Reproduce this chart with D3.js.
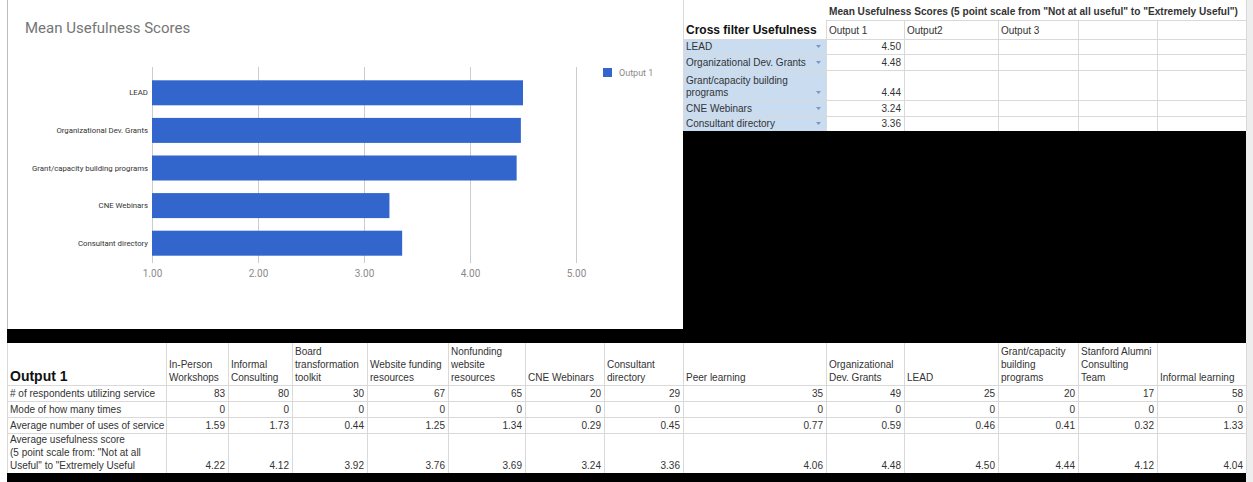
<!DOCTYPE html>
<html>
<head>
<meta charset="utf-8">
<script src="https://cdn.jsdelivr.net/npm/d3@7"></script>
<style>
  html, body { margin: 0; padding: 0; background: #fff; }
  svg { display: block; }
  text { font-family: "Liberation Sans", Arial, sans-serif; }
  .chart text { font-family: Roboto, "Liberation Sans", Arial, sans-serif; }
</style>
</head>
<body>
<svg id="sheet" width="1253" height="482"></svg>
<script>
// ---- Bar chart data ----
const chartTitle = "Mean Usefulness Scores";
const chartCategories = ["LEAD", "Organizational Dev. Grants", "Grant/capacity building programs", "CNE Webinars", "Consultant directory"];
const chartValues = [4.50, 4.48, 4.44, 3.24, 3.36];
const xTickValues = [1, 2, 3, 4, 5];
const seriesName = "Output 1";

// ---- Cross filter table data ----
const filterHeading = "Cross filter Usefulness";
const filterTitle = "Mean Usefulness Scores (5 point scale from \"Not at all useful\" to \"Extremely Useful\")";
const filterColumns = ["Output 1", "Output2", "Output 3", "", ""];
const filterRows = ["LEAD", "Organizational Dev. Grants", "Grant/capacity building\nprograms", "CNE Webinars", "Consultant directory"];
const filterOutput1 = [4.50, 4.48, 4.44, 3.24, 3.36];

// ---- Service summary table data ----
const summaryTitle = "Output 1";
const services = [
  "In-Person\nWorkshops", "Informal\nConsulting", "Board\ntransformation\ntoolkit",
  "Website funding\nresources", "Nonfunding\nwebsite\nresources", "CNE Webinars",
  "Consultant\ndirectory", "Peer learning", "Organizational\nDev. Grants", "LEAD",
  "Grant/capacity\nbuilding\nprograms", "Stanford Alumni\nConsulting\nTeam", "Informal learning"
];
const rowLabels = [
  "# of respondents utilizing service",
  "Mode of how many times",
  "Average number of uses of service",
  "Average usefulness score\n(5 point scale from: \"Not at all\nUseful\" to \"Extremely Useful"
];
const respondents = [83, 80, 30, 67, 65, 20, 29, 35, 49, 25, 20, 17, 58];
const modeTimes = [0, 0, 0, 0, 0, 0, 0, 0, 0, 0, 0, 0, 0];
const averageUses = [1.59, 1.73, 0.44, 1.25, 1.34, 0.29, 0.45, 0.77, 0.59, 0.46, 0.41, 0.32, 1.33];
const usefulnessScores = [4.22, 4.12, 3.92, 3.76, 3.69, 3.24, 3.36, 4.06, 4.48, 4.50, 4.44, 4.12, 4.04];

// ---- Layout ----
const svg = d3.select("#sheet");
const W = 1253, H = 482;
const gridColor = "#d9d9d9";
const cellText = "#333";
const rightEdge = 1246;

svg.append("rect").attr("width", W).attr("height", H).attr("fill", "#fff");

// scrollbar strip on the right
svg.append("rect").attr("x", rightEdge).attr("y", 0).attr("width", W - rightEdge).attr("height", H).attr("fill", "#eeeeee");

// sheet left edge
svg.append("line").attr("x1", 7.5).attr("x2", 7.5).attr("y1", 0).attr("y2", H)
  .attr("stroke", "#bdbdbd");

// ================= Bar chart =================
const chart = svg.append("g").attr("class", "chart");

chart.append("text")
  .attr("x", 25).attr("y", 33)
  .attr("font-size", 15).attr("fill", "#757575")
  .text(chartTitle);

const x = d3.scaleLinear().domain([1, 5]).range([152, 576]);
const y = d3.scaleBand().domain(chartCategories).range([74, 262])
  .paddingInner(0.335).paddingOuter(0.1675);

// vertical gridlines
const grid = chart.append("g").attr("transform", "translate(0,263)")
  .call(d3.axisBottom(x).tickValues(xTickValues).tickSize(-196).tickFormat(""));
grid.select(".domain").remove();
grid.selectAll("line").attr("stroke", "#cccccc");

// bars
chart.append("g").selectAll("rect")
  .data(chartCategories)
  .join("rect")
  .attr("x", x(1))
  .attr("y", d => y(d))
  .attr("width", (d, i) => x(chartValues[i]) - x(1))
  .attr("height", y.bandwidth())
  .attr("fill", "#3366cc");

// x axis labels
const xAxis = chart.append("g").attr("transform", "translate(0,270)")
  .call(d3.axisBottom(x).tickValues(xTickValues).tickSize(0).tickPadding(0).tickFormat(d3.format(".2f")));
xAxis.select(".domain").remove();
xAxis.selectAll("text")
  .attr("font-size", 10).attr("fill", "#8a8a8a")
  .attr("font-family", "Roboto, sans-serif");

// category labels
const yAxis = chart.append("g").attr("transform", `translate(${x(1)},0)`)
  .call(d3.axisLeft(y).tickSize(0).tickPadding(4));
yAxis.select(".domain").remove();
yAxis.selectAll("text")
  .attr("font-size", 7.8).attr("fill", "#333")
  .attr("font-family", "Roboto, sans-serif");

// legend
chart.append("rect").attr("x", 603).attr("y", 68).attr("width", 9).attr("height", 9).attr("fill", "#3366cc");
chart.append("text").attr("x", 619).attr("y", 76)
  .attr("font-size", 9).attr("fill", "#8a8a8a")
  .text(seriesName);

// ================= Cross filter table =================
const ft = svg.append("g");
const fCols = [683, 826, 904, 998, 1078, 1157, rightEdge];
const fRowEdges = [39, 54, 70, 100, 116, 131];

// blue row-label cells
ft.append("rect").attr("x", fCols[0]).attr("y", fRowEdges[0])
  .attr("width", fCols[1] - fCols[0]).attr("height", fRowEdges[5] - fRowEdges[0])
  .attr("fill", "#cadcf0");

// horizontal rules
ft.append("line").attr("x1", fCols[1]).attr("x2", fCols[6]).attr("y1", 20.5).attr("y2", 20.5).attr("stroke", gridColor);
fRowEdges.forEach(yy => {
  ft.append("line").attr("x1", fCols[0]).attr("x2", fCols[6])
    .attr("y1", yy + 0.5).attr("y2", yy + 0.5).attr("stroke", gridColor);
});
// vertical rules
fCols.forEach((xx, i) => {
  const top = (i === 0 || i === fCols.length - 1) ? 0 : 20;
  ft.append("line").attr("x1", xx + 0.5).attr("x2", xx + 0.5)
    .attr("y1", top).attr("y2", fRowEdges[5]).attr("stroke", gridColor);
});

ft.append("text").attr("x", 829).attr("y", 15)
  .attr("font-size", 10.1).attr("font-weight", "bold").attr("fill", "#333")
  .text(filterTitle);
ft.append("text").attr("x", 686).attr("y", 34)
  .attr("font-size", 12).attr("font-weight", "bold").attr("fill", "#111")
  .text(filterHeading);
ft.selectAll("text.colhead").data(filterColumns).join("text")
  .attr("class", "colhead")
  .attr("x", (d, i) => fCols[i + 1] + 3).attr("y", 34)
  .attr("font-size", 10).attr("fill", cellText)
  .text(d => d);

filterRows.forEach((label, i) => {
  const bottom = fRowEdges[i + 1];
  const lines = label.split("\n");
  const lastBase = bottom - 4;
  lines.forEach((ln, j) => {
    ft.append("text").attr("x", 686).attr("y", lastBase - (lines.length - 1 - j) * 12.5)
      .attr("font-size", 10).attr("fill", cellText).text(ln);
  });
  // dropdown indicator
  ft.append("path")
    .attr("d", `M${816},${lastBase - 5} l5,0 l-2.5,3 z`)
    .attr("fill", "#7f97bf");
  ft.append("text").attr("x", fCols[2] - 3).attr("y", lastBase)
    .attr("text-anchor", "end").attr("font-size", 10).attr("fill", cellText)
    .text(d3.format(".2f")(filterOutput1[i]));
});

// black blocks of empty sheet area
svg.append("rect").attr("x", 683).attr("y", 131).attr("width", rightEdge - 683).attr("height", 212).attr("fill", "#000");
svg.append("rect").attr("x", 7).attr("y", 329).attr("width", rightEdge - 7).attr("height", 14).attr("fill", "#000");
svg.append("rect").attr("x", 7).attr("y", 473).attr("width", rightEdge - 7).attr("height", 9).attr("fill", "#000");

// ================= Service summary table =================
const st = svg.append("g");
const sCols = [7, 166, 228, 292, 367, 448, 525, 604, 683, 826, 904, 998, 1078, 1157, rightEdge];
const sRows = [343, 385, 401, 417, 433, 473];

sRows.slice(1, 5).forEach(yy => {
  st.append("line").attr("x1", sCols[0]).attr("x2", sCols[sCols.length - 1])
    .attr("y1", yy + 0.5).attr("y2", yy + 0.5).attr("stroke", gridColor);
});
sCols.forEach(xx => {
  st.append("line").attr("x1", xx + 0.5).attr("x2", xx + 0.5)
    .attr("y1", sRows[0]).attr("y2", sRows[5]).attr("stroke", gridColor);
});

st.append("text").attr("x", 10).attr("y", 381)
  .attr("font-size", 14).attr("font-weight", "bold").attr("fill", "#111")
  .text(summaryTitle);

// multi-line, bottom aligned cell text
function cellLines(g, text, xx, bottomBase, anchor) {
  const lines = text.split("\n");
  lines.forEach((ln, j) => {
    g.append("text")
      .attr("x", xx).attr("y", bottomBase - (lines.length - 1 - j) * 13)
      .attr("text-anchor", anchor)
      .attr("font-size", 10).attr("fill", cellText)
      .text(ln);
  });
}

services.forEach((s, i) => cellLines(st, s, sCols[i + 1] + 3, 381, "start"));

const seriesRows = [
  { values: respondents, fmt: d3.format("d") },
  { values: modeTimes, fmt: d3.format("d") },
  { values: averageUses, fmt: d3.format(".2f") },
  { values: usefulnessScores, fmt: d3.format(".2f") }
];

rowLabels.forEach((label, r) => {
  const base = sRows[r + 2] - 4;
  cellLines(st, label, 10, base, "start");
  seriesRows[r].values.forEach((v, i) => {
    st.append("text")
      .attr("x", sCols[i + 2] - 3).attr("y", base)
      .attr("text-anchor", "end")
      .attr("font-size", 10).attr("fill", cellText)
      .text(seriesRows[r].fmt(v));
  });
});
</script>
</body>
</html>
